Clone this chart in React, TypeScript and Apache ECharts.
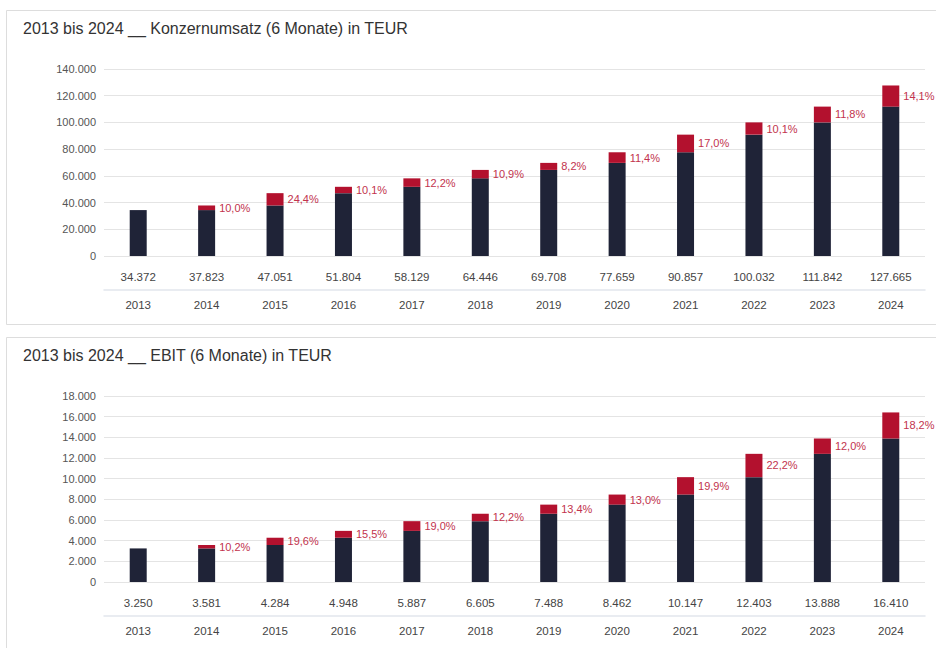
import React, { useEffect, useRef } from "react";
import * as echarts from "echarts";

const years = ["2013", "2014", "2015", "2016", "2017", "2018", "2019", "2020", "2021", "2022", "2023", "2024"];
const umsatz = [34372, 37823, 47051, 51804, 58129, 64446, 69708, 77659, 90857, 100032, 111842, 127665];
const umsatzGrowth = ["", "10,0%", "24,4%", "10,1%", "12,2%", "10,9%", "8,2%", "11,4%", "17,0%", "10,1%", "11,8%", "14,1%"];
const ebit = [3250, 3581, 4284, 4948, 5887, 6605, 7488, 8462, 10147, 12403, 13888, 16410];
const ebitGrowth = ["", "10,2%", "19,6%", "15,5%", "19,0%", "12,2%", "13,4%", "13,0%", "19,9%", "22,2%", "12,0%", "18,2%"];

const title1 = "2013 bis 2024 __ Konzernumsatz (6 Monate) in TEUR";
const title2 = "2013 bis 2024 __ EBIT (6 Monate) in TEUR";

const NAVY = "#1f2337";
const RED = "#b3112e";
const LABEL_RED = "#c2334d";
const FONT = "'Liberation Sans', Arial, Helvetica, sans-serif";

const fmt = (n: number) => String(n).replace(/\B(?=(\d{3})+(?!\d))/g, ".");

function buildAxes(grid: number, values: number[]) {
  return [
    {
      type: "category",
      gridIndex: grid,
      data: years,
      axisLine: { show: false },
      axisTick: { show: false },
      axisLabel: {
        margin: 15,
        color: "#444",
        fontSize: 11.5,
        fontFamily: FONT,
        formatter: (_v: string, i: number) => fmt(values[i]),
      },
    },
    {
      type: "category",
      gridIndex: grid,
      data: years,
      position: "bottom",
      offset: 34,
      axisLine: { show: true, lineStyle: { color: "#e2e6ed", width: 1.5 } },
      axisTick: { show: false },
      axisLabel: { margin: 9, color: "#444", fontSize: 11.5, fontFamily: FONT },
    },
  ];
}

function buildSeries(axisIdx: number, yIdx: number, values: number[], growth: string[], stack: string) {
  const base = values.map((v, i) => (i === 0 ? v : values[i - 1]));
  const inc = values.map((v, i) => (i === 0 ? null : v - values[i - 1]));
  return [
    {
      type: "bar",
      xAxisIndex: axisIdx,
      yAxisIndex: yIdx,
      stack,
      data: base,
      barWidth: 17,
      itemStyle: { color: NAVY },
    },
    {
      type: "bar",
      xAxisIndex: axisIdx,
      yAxisIndex: yIdx,
      stack,
      data: inc,
      barWidth: 17,
      itemStyle: { color: RED },
      label: {
        show: true,
        position: "right",
        distance: 4,
        color: LABEL_RED,
        fontSize: 11,
        fontFamily: FONT,
        formatter: (p: any) => growth[p.dataIndex],
      },
    },
  ];
}

export default function App() {
  const ref = useRef<HTMLDivElement>(null);
  useEffect(() => {
    if (!ref.current) return;
    const chart = echarts.init(ref.current, null, { renderer: "svg" });
    const yAxisCommon = {
      type: "value",
      axisLine: { show: false },
      axisTick: { show: false },
      splitLine: { lineStyle: { color: "#e4e4e4" } },
      axisLabel: { color: "#555", fontSize: 11, margin: 8, fontFamily: FONT, formatter: (v: number) => fmt(v) },
    };
    chart.setOption({
      animation: false,
      backgroundColor: "#ffffff",
      graphic: [
        {
          type: "rect",
          shape: { x: 6.5, y: 10.5, width: 940, height: 314 },
          style: { fill: "none", stroke: "#dddddd", lineWidth: 1 },
          silent: true,
        },
        {
          type: "rect",
          shape: { x: 6.5, y: 337.5, width: 940, height: 330 },
          style: { fill: "none", stroke: "#dddddd", lineWidth: 1 },
          silent: true,
        },
        {
          type: "text",
          x: 23,
          y: 28,
          style: { text: title1, fill: "#333", fontSize: 16, fontFamily: FONT, verticalAlign: "middle" },
        },
        {
          type: "text",
          x: 23,
          y: 355,
          style: { text: title2, fill: "#333", fontSize: 16, fontFamily: FONT, verticalAlign: "middle" },
        },
      ],
      grid: [
        { left: 104, right: 11, top: 69, height: 187 },
        { left: 104, right: 11, top: 396, height: 186 },
      ],
      xAxis: [...buildAxes(0, umsatz), ...buildAxes(1, ebit)],
      yAxis: [
        { ...yAxisCommon, gridIndex: 0, min: 0, max: 140000, interval: 20000 },
        { ...yAxisCommon, gridIndex: 1, min: 0, max: 18000, interval: 2000 },
      ],
      series: [
        ...buildSeries(0, 0, umsatz, umsatzGrowth, "u"),
        ...buildSeries(2, 1, ebit, ebitGrowth, "e"),
      ],
    });
    return () => chart.dispose();
  }, []);
  return (
    <div
      ref={ref}
      style={{ position: "absolute", left: 0, top: 0, width: 936, height: 648, background: "#fff" }}
    />
  );
}
